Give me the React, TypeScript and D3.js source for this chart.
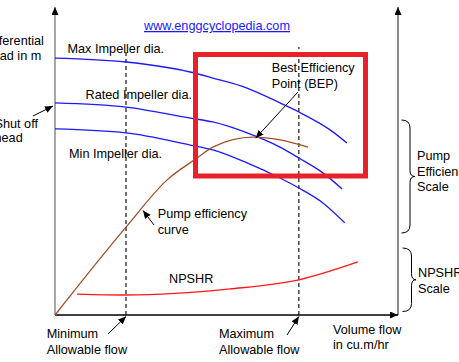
import * as d3 from 'd3'

// flow in % of axis length, head / efficiency / NPSHR in % of axis height
const maxFlow = [0, 20.7, 39.4, 46, 56, 65.6, 71.1, 80.2, 85.1]
const maxHead = [84.8, 83.5, 80.2, 78.2, 74.9, 70, 67, 61.1, 56.8]
const ratedFlow = [0, 20.7, 39.4, 46, 56, 65.6, 71.1, 78.1, 83.7]
const ratedHead = [70, 68.6, 65, 63.7, 60.1, 55.4, 51.8, 46.9, 41.6]
const minFlow = [0, 20.7, 39.4, 46, 56, 65.6, 71.1, 78.1, 84.5]
const minHead = [61.4, 60.1, 56.1, 54.5, 50.2, 45.2, 41.9, 37, 30.4]
const effFlow = [0, 20.7, 32.7, 41.4, 46, 57.7, 65.6, 73.8]
const effValue = [0, 29, 44.6, 51.8, 55.4, 58.7, 57.8, 55.4]
const npshFlow = [6.4, 20.7, 51, 71.1, 88.3]
const npshValue = [6.9, 6.6, 8.6, 11.6, 17.5]
const allowableFlow = [20.7, 71.1]
const bep = { flow: 58.5, value: 58.7 }

const W = 459
const H = 362
const font = '"Liberation Sans", Arial, sans-serif'
const fs = 12.7

const App = () => {
  const x = d3.scaleLinear().domain([0, 100]).range([55, 398])
  const y = d3.scaleLinear().domain([0, 100]).range([315, 12])
  const line = d3
    .line<[number, number]>()
    .x(d => x(d[0]))
    .y(d => y(d[1]))
    .curve(d3.curveMonotoneX)
  const zip = (a: number[], b: number[]) => a.map((v, i) => [v, b[i]] as [number, number])

  const curves = [
    { d: zip(maxFlow, maxHead), c: '#1a1aff' },
    { d: zip(ratedFlow, ratedHead), c: '#1a1aff' },
    { d: zip(minFlow, minHead), c: '#1a1aff' },
    { d: zip(effFlow, effValue), c: '#a3502a' },
    { d: zip(npshFlow, npshValue), c: '#ff1a1a' },
  ]

  const x0 = x(0)
  const y0 = y(0)
  const xr = x(100)

  const brace = (xa: number, top: number, bot: number, xv: number, tip: number) => {
    const mid = (top + bot) / 2
    return `M${xa},${top} Q${xv},${top} ${xv},${top + 8} L${xv},${mid - 6} Q${xv},${mid} ${tip},${mid} Q${xv},${mid} ${xv},${mid + 6} L${xv},${bot - 8} Q${xv},${bot} ${xa},${bot}`
  }

  const T = (tx: number, ty: number, s: string, extra: any = {}) => (
    <text x={tx} y={ty} fontFamily={font} fontSize={fs} fill="#000" {...extra}>
      {s}
    </text>
  )

  return (
    <svg width={W} height={H} style={{ position: 'absolute', left: 0, top: 0 }}>
      <defs>
        <marker id="ah" markerUnits="userSpaceOnUse" markerWidth="9" markerHeight="8" refX="8" refY="3.5" orient="auto">
          <path d="M0,0 L8,3.5 L0,7 z" fill="#000" />
        </marker>
      </defs>
      <rect width={W} height={H} fill="#fff" />

      {/* axes */}
      <line x1={x0} y1={y0} x2={x0} y2={7} stroke="#808080" strokeWidth={1.4} markerEnd="url(#ah)" />
      <line x1={xr} y1={y0} x2={xr} y2={7} stroke="#8c8c8c" strokeWidth={2} markerEnd="url(#ah)" />
      <line x1={x0} y1={y0} x2={xr} y2={y0} stroke="#000" strokeWidth={1.4} markerEnd="url(#ah)" />

      {/* allowable flow limits */}
      {allowableFlow.map((f, i) => (
        <line
          key={i}
          x1={x(f)}
          x2={x(f)}
          y1={y0}
          y2={i === 0 ? 52 : 47}
          stroke="#000"
          strokeWidth={1.1}
          strokeDasharray="4,3"
        />
      ))}

      {curves.map((c, i) => (
        <path key={i} d={line(c.d) || ''} fill="none" stroke={c.c} strokeWidth={1.3} />
      ))}

      <rect x={195.5} y={54.5} width={170} height={121.5} fill="none" stroke="#e8202a" strokeWidth={5} />

      {/* braces */}
      <path d={brace(401.5, 120, 233, 410, 415)} fill="none" stroke="#000" strokeWidth={1} />
      <path d={brace(402.5, 248, 311.5, 411.5, 416)} fill="none" stroke="#000" strokeWidth={1} />

      {/* annotation arrows */}
      <line x1={33} y1={116} x2={x0 - 2} y2={106} stroke="#000" strokeWidth={1} markerEnd="url(#ah)" />
      <line x1={298} y1={92} x2={x(bep.flow)} y2={y(bep.value) + 1} stroke="#000" strokeWidth={1} markerEnd="url(#ah)" />
      <line x1={154} y1={225} x2={143} y2={210.5} stroke="#000" strokeWidth={1} markerEnd="url(#ah)" />
      <line x1={108} y1={334} x2={x(allowableFlow[0])} y2={y0 + 1.5} stroke="#000" strokeWidth={1} markerEnd="url(#ah)" />
      <line x1={287} y1={335} x2={x(allowableFlow[1])} y2={y0 + 1.5} stroke="#000" strokeWidth={1} markerEnd="url(#ah)" />

      {/* labels */}
      {T(144, 30, 'www.enggcyclopedia.com', { fill: '#1a1aff', textDecoration: 'underline' })}
      {T(-16.5, 45, 'Differential')}
      {T(-16.5, 60, 'Head in m')}
      {T(-5.5, 127.7, 'Shut off')}
      {T(-5.5, 141.7, 'head')}
      {T(67.5, 53, 'Max Impeller dia.')}
      {T(85.5, 99, 'Rated Impeller dia.')}
      {T(69, 158, 'Min Impeller dia.')}
      {T(271.7, 71.7, 'Best Efficiency')}
      {T(271.7, 87.5, 'Point (BEP)')}
      {T(157.7, 218, 'Pump efficiency')}
      {T(157.7, 234, 'curve')}
      {T(169, 283, 'NPSHR')}
      {T(46.7, 338, 'Minimum')}
      {T(46.7, 354, 'Allowable flow')}
      {T(219, 338, 'Maximum')}
      {T(219, 354, 'Allowable flow')}
      {T(333, 333.5, 'Volume flow')}
      {T(333, 348.5, 'in cu.m/hr')}
      {T(417, 160, 'Pump')}
      {T(417, 176, 'Efficiency')}
      {T(417, 191, 'Scale')}
      {T(418, 277, 'NPSHR')}
      {T(418, 293, 'Scale')}
    </svg>
  )
}

export default App
